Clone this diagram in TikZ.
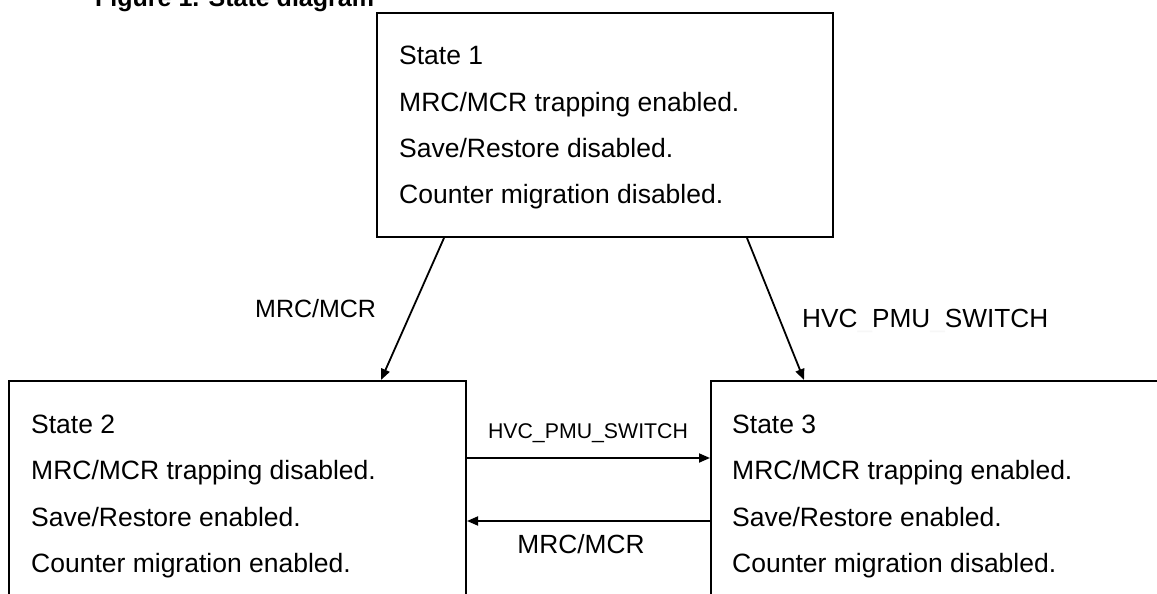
\documentclass[tikz,border=0pt]{standalone}
\usepackage{fontspec}
\setmainfont{Liberation Sans}
\usetikzlibrary{arrows.meta}

\tikzset{
  box/.style={draw, line width=2pt, rectangle, inner sep=0pt},
  txt/.style={font=\fontsize{26.5}{30}\selectfont, anchor=base west, inner sep=0pt},
  lbl/.style={inner sep=0pt},
  link/.style={line width=1.8pt, -{Triangle[length=11pt,width=9pt]}},
}

\begin{document}
\begin{tikzpicture}[x=1pt,y=-1pt]
  \useasboundingbox (0,0) rectangle (1157,594);
  \clip (0,0) rectangle (1157,594);

  % caption
  \node[lbl, anchor=base west, font=\fontsize{25}{28}\selectfont\bfseries] (title) at (95,7) {Figure 1. State diagram};

  % state boxes
  \node[box, minimum width=456pt, minimum height=224pt] (s1) at (605,125) {};
  \node[box, minimum width=457pt, minimum height=269pt] (s2) at (237.5,515.5) {};
  \node[box, minimum width=489pt, minimum height=269pt] (s3) at (955.5,515.5) {};

  % box contents
  \node[txt] (s1a) at (399,65)  {State 1};
  \node[txt] (s1b) at (399,111) {MRC/MCR trapping enabled.};
  \node[txt] (s1c) at (399,157) {Save/Restore disabled.};
  \node[txt] (s1d) at (399,203) {Counter migration disabled.};

  \node[txt] (s2a) at (31,433) {State 2};
  \node[txt] (s2b) at (31,479.5) {MRC/MCR trapping disabled.};
  \node[txt] (s2c) at (31,526) {Save/Restore enabled.};
  \node[txt] (s2d) at (31,572.5) {Counter migration enabled.};

  \node[txt] (s3a) at (732,433) {State 3};
  \node[txt] (s3b) at (732,479.5) {MRC/MCR trapping enabled.};
  \node[txt] (s3c) at (732,526) {Save/Restore enabled.};
  \node[txt] (s3d) at (732,572.5) {Counter migration disabled.};

  % transitions
  \draw[link] ([xshift=68pt]s1.south west) -- ([xshift=-86pt]s2.north east);
  \draw[link] ([xshift=-87pt]s1.south east) -- ([xshift=94pt]s3.north west);
  \draw[link] ([yshift=-78pt]s2.north east) -- ([yshift=-78pt]s3.north west);
  \draw[link] ([yshift=-141pt]s3.north west) -- ([yshift=-141pt]s2.north east);

  % transition labels
  \node[lbl, anchor=base west, font=\fontsize{25}{28}\selectfont] (l12) at (255,317) {MRC/MCR};
  \node[lbl, anchor=base west, font=\fontsize{26.2}{30}\selectfont] (l13) at (802,327)
    {HVC\textcolor{black!3}{\_}PMU\textcolor{black!3}{\_}SWITCH};
  \node[lbl, anchor=base, font=\fontsize{21.3}{24}\selectfont] (l23) at (588,438) {HVC\_PMU\_SWITCH};
  \node[lbl, anchor=base, font=\fontsize{26.3}{30}\selectfont] (l32) at (581,553) {MRC/MCR};
\end{tikzpicture}
\end{document}
